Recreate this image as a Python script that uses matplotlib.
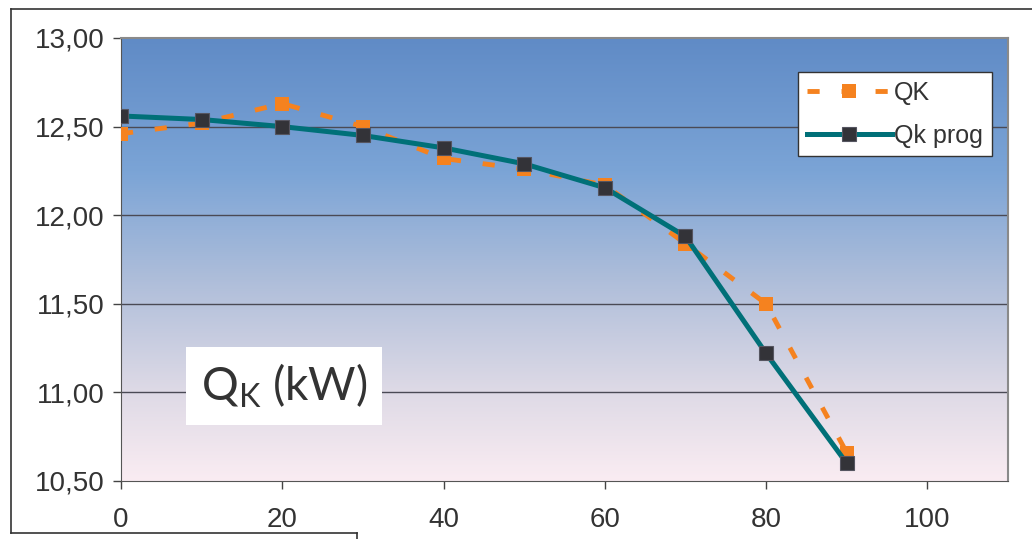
import numpy as np
import matplotlib
matplotlib.use("Agg")
import matplotlib.pyplot as plt
from matplotlib.colors import LinearSegmentedColormap
from matplotlib.lines import Line2D
from matplotlib.ticker import FuncFormatter

# Data
x_vals = [0, 10, 20, 30, 40, 50, 60, 70, 80, 90]
qk = [12.46, 12.52, 12.63, 12.50, 12.32, 12.26, 12.17, 11.84, 11.50, 10.66]
qk_prog = [12.56, 12.54, 12.50, 12.45, 12.38, 12.29, 12.155, 11.88, 11.22, 10.60]
x_ticks = [0, 20, 40, 60, 80, 100]
y_ticks = [10.5, 11.0, 11.5, 12.0, 12.5, 13.0]

plt.rcParams['font.family'] = ['Liberation Sans', 'DejaVu Sans']
plt.rcParams['mathtext.fontset'] = 'custom'

W, H = 1032, 539
fig = plt.figure(figsize=(W / 100, H / 100), dpi=100)
ax = fig.add_axes([121 / W, 1 - 481 / H, (1008 - 121) / W, (481 - 38) / H])

# gradient background of the plot area
bg = LinearSegmentedColormap.from_list("bg", [
    (0.0, (250/255, 236/255, 242/255)),
    (0.2, (222/255, 218/255, 230/255)),
    (0.45, (175/255, 190/255, 218/255)),
    (0.7, (123/255, 164/255, 214/255)),
    (1.0, (96/255, 139/255, 198/255)),
])
ax.imshow(np.linspace(0, 1, 256).reshape(-1, 1), cmap=bg, origin="lower",
          extent=[0, 110, 10.5, 13.0], aspect="auto", zorder=0)

ax.set_xlim(0, 110)
ax.set_ylim(10.5, 13.0)
for yv in y_ticks[1:-1]:
    ax.axhline(yv, color="#4a4a55", lw=1, zorder=1)

ax.plot(x_vals, qk, color="#f5821f", lw=3.5, ls=(0, (2.5, 4.5)),
        marker="s", ms=10.5, markeredgewidth=0, label="QK", zorder=3)
ax.plot(x_vals, qk_prog, color="#007078", lw=3.6, marker="s", ms=10,
        markerfacecolor="#333338", markeredgecolor="#555560", markeredgewidth=0.8,
        label="Qk prog", zorder=4)

ax.set_xticks(x_ticks)
ax.set_yticks(y_ticks)
ax.yaxis.set_major_formatter(FuncFormatter(lambda v, p: f"{v:.2f}".replace(".", ",")))
ax.tick_params(direction="out", length=6, width=1, colors="#444444",
               labelsize=20, labelcolor="#333333", pad=6)
ax.tick_params(axis="x", pad=13)
for s in ["left", "bottom"]:
    ax.spines[s].set_color("#555555")
for s in ["top", "right"]:
    ax.spines[s].set_color("#8a8a8a")
    ax.spines[s].set_linewidth(1.5)

leg = ax.legend(loc="upper left", bbox_to_anchor=(798 / W, 1 - 72 / H),
                bbox_transform=fig.transFigure, fontsize=18, frameon=True,
                fancybox=False, edgecolor="#333333", framealpha=1,
                borderaxespad=0, handlelength=3.4, handletextpad=0.1,
                borderpad=0.35, labelspacing=0.75, labelcolor="#333333")
leg.get_frame().set_linewidth(1)

# label box
ax.text(284 / W, 1 - 386 / H, r"$\mathregular{Q_K}$ (kW)", transform=fig.transFigure,
        fontsize=33, family="Lato", color="#333333", ha="center", va="center",
        bbox=dict(boxstyle="square,pad=0.32", facecolor="white", edgecolor="none"),
        zorder=5)

# outer chart frame
fig.add_artist(Line2D([11 / W, 1], [1 - 9 / H, 1 - 9 / H], color="#333333", lw=1.2))
fig.add_artist(Line2D([11 / W, 11 / W], [1 - 9 / H, 1 - 533 / H], color="#333333", lw=1.2))
fig.add_artist(Line2D([11 / W, 357 / W], [1 - 533 / H, 1 - 533 / H], color="#333333", lw=1.2))
fig.add_artist(Line2D([357 / W, 357 / W], [1 - 533 / H, 0], color="#333333", lw=1.2))

fig.savefig("out.png", dpi=100)
